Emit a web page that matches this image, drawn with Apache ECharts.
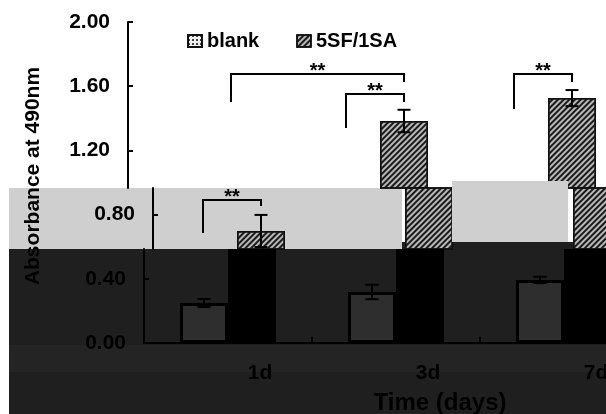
<!DOCTYPE html>
<html>
<head>
<meta charset="utf-8">
<script src="https://cdn.jsdelivr.net/npm/echarts@6/dist/echarts.min.js"></script>
<style>html,body{margin:0;padding:0;background:#fff}#c{width:606px;height:414px}</style>
</head>
<body>
<div id="c"></div>
<script>
// ---- data ----
const categories = ['1d', '3d', '7d'];
const seriesNames = ['blank', '5SF/1SA'];
const blankValues = [0.249, 0.318, 0.393];
const blankErrors = [0.025, 0.045, 0.020];
const sfValues = [0.698, 1.383, 1.526];
const sfErrors = [0.10, 0.07, 0.05];
const yTickValues = [0, 0.4, 0.8, 1.2, 1.6, 2.0];
// significance brackets: [fromCategory, fromSeries(0 blank / 1 5SF), toCategory, toSeries, topValue, fromLegEnd, toLegEnd, mark]
const sigBrackets = [
  [0, 1, 1, 1, 1.676, 1.502, 1.626, '**'],
  [1, 0, 1, 1, 1.551, 1.340, 1.502, '**'],
  [2, 0, 2, 1, 1.676, 1.458, 1.626, '**'],
  [0, 0, 0, 1, 0.891, 0.685, 0.854, '**']
];

// ---- layout / style ----
const FONT = '"Liberation Sans", Arial, sans-serif';
const PX_PER_UNIT = 160.5;
const BAR_W = 48;
const GRID_W = 504;
const LEG_SHIFT = [-10, -5];
const hatch = () => ({symbol: 'rect', symbolSize: 1, dashArrayX: [1, 0], dashArrayY: [2, 2], rotation: -Math.PI / 4, color: '#1a1a1a'});
const frames = [
  {left: 128, top: 22, height: 166, yMin: 2 - 166 / PX_PER_UNIT, yMax: 2.0,
   blankStyle: {color: '#e6e6e6', borderColor: '#000', borderWidth: 1.5},
   sfStyle: {color: '#b8b8b8', borderColor: '#111', borderWidth: 1.5, decal: hatch()}, brackets: true},
  {left: 153, top: 188, height: 61, yMin: 94 / PX_PER_UNIT, yMax: 155 / PX_PER_UNIT,
   blankStyle: {color: '#e6e6e6', borderColor: '#000', borderWidth: 1.5},
   sfStyle: {color: '#b8b8b8', borderColor: '#111', borderWidth: 1.5, decal: hatch()}, brackets: true},
  {left: 144, top: 249, height: 94, yMin: 0, yMax: 94 / PX_PER_UNIT,
   blankStyle: {color: '#2e2e2e', borderColor: '#000', borderWidth: 3},
   sfStyle: {color: '#000', borderColor: '#000', borderWidth: 0}, brackets: false}
];

const errData = [];
categories.forEach((c, i) => {
  errData.push([i, blankValues[i] - blankErrors[i], blankValues[i] + blankErrors[i], 0]);
  errData.push([i, sfValues[i] - sfErrors[i], sfValues[i] + sfErrors[i], 1]);
});

function barCenter(api, cat, side) {
  const c = api.coord([cat, 0])[0];
  return c + (side === 0 ? -BAR_W / 2 : BAR_W / 2);
}
function errRender(params, api) {
  const x = barCenter(api, api.value(0), api.value(3));
  const yl = api.coord([api.value(0), api.value(1)])[1];
  const yh = api.coord([api.value(0), api.value(2)])[1];
  const cap = 6.5;
  const st = {stroke: '#000', lineWidth: 2};
  return {type: 'group', children: [
    {type: 'line', shape: {x1: x, y1: yl, x2: x, y2: yh}, style: st},
    {type: 'line', shape: {x1: x - cap, y1: yh, x2: x + cap, y2: yh}, style: st},
    {type: 'line', shape: {x1: x - cap, y1: yl, x2: x + cap, y2: yl}, style: st}
  ]};
}
function bracketRender(params, api) {
  const b = sigBrackets[params.dataIndex];
  const xf = barCenter(api, b[0], b[1]) + LEG_SHIFT[b[1]];
  const xt = barCenter(api, b[2], b[3]);
  const yTop = api.coord([b[0], b[4]])[1];
  const yf = api.coord([b[0], b[5]])[1];
  const yt = api.coord([b[0], b[6]])[1];
  return {type: 'group', children: [
    {type: 'polyline', shape: {points: [[xf, yf], [xf, yTop], [xt, yTop], [xt, yt]]},
     style: {stroke: '#000', lineWidth: 2, fill: null}},
    {type: 'text', x: (xf + xt) / 2, y: yTop - 3,
     style: {text: b[7], font: 'bold 20px ' + FONT, fill: '#000', align: 'center', verticalAlign: 'middle'}}
  ]};
}
function ticksIn(f) {
  return yTickValues.filter(v => v >= f.yMin - 1e-6 && v <= f.yMax + 1e-6);
}

const grids = frames.map(f => ({left: f.left, top: f.top, width: GRID_W, height: f.height,
                                outerBoundsMode: 'none', containLabel: false}));
const xAxes = frames.map((f, i) => ({
  type: 'category', gridIndex: i, data: categories, show: i === 2, boundaryGap: true,
  axisLine: {lineStyle: {color: '#000', width: 2}},
  axisTick: {show: true, inside: true, length: 6, lineStyle: {color: '#000', width: 2}},
  axisLabel: {color: '#000', fontSize: 21, fontWeight: 'bold', fontFamily: FONT, margin: 20, padding: [0, 0, 0, 64]},
  name: i === 2 ? 'Time (days)' : '', nameLocation: 'middle', nameGap: 48,
  nameTextStyle: {color: '#000', fontSize: 24, fontWeight: 'bold', fontFamily: FONT, padding: [0, 0, 0, 88]}
}));
const yAxes = frames.map((f, i) => ({
  type: 'value', gridIndex: i, min: f.yMin, max: f.yMax,
  splitLine: {show: false},
  axisLine: {show: true, lineStyle: {color: '#000', width: 2}},
  axisTick: {show: true, inside: true, length: 5, lineStyle: {color: '#000', width: 2}, customValues: ticksIn(f)},
  axisLabel: {customValues: ticksIn(f), formatter: v => v.toFixed(2), margin: 18,
              color: '#000', fontSize: 21, fontWeight: 'bold', fontFamily: FONT}
}));
const series = [];
frames.forEach((f, i) => {
  series.push({type: 'bar', name: seriesNames[0], xAxisIndex: i, yAxisIndex: i, data: blankValues,
               barWidth: BAR_W, barGap: '0%', itemStyle: f.blankStyle, clip: true, silent: true});
  series.push({type: 'bar', name: seriesNames[1], xAxisIndex: i, yAxisIndex: i, data: sfValues,
               barWidth: BAR_W, barGap: '0%', itemStyle: f.sfStyle, clip: true, silent: true});
  series.push({type: 'custom', xAxisIndex: i, yAxisIndex: i, data: errData, renderItem: errRender,
               encode: {x: 0, y: [1, 2]}, clip: true, z: 5, silent: true});
  if (f.brackets) {
    series.push({type: 'custom', xAxisIndex: i, yAxisIndex: i,
                 data: sigBrackets.map(b => [b[0], b[4]]), renderItem: bracketRender,
                 encode: {x: 0, y: 1}, clip: true, z: 6, silent: true});
  }
});

const chart = echarts.init(document.getElementById('c'), null, {renderer: 'canvas'});
chart.setOption({
  animation: false,
  backgroundColor: '#fff',
  legend: {
    left: 187, top: 31, padding: 0, itemWidth: 14, itemHeight: 12, itemGap: 37,
    icon: 'rect', selectedMode: false,
    textStyle: {color: '#000', fontSize: 20, fontWeight: 'bold', fontFamily: FONT},
    data: [
      {name: seriesNames[0], itemStyle: {color: '#f0f0f0', borderColor: '#111', borderWidth: 2,
        decal: {symbol: 'rect', symbolSize: 1, dashArrayX: [[2, 2]], dashArrayY: [2, 2], color: '#444'}}},
      {name: seriesNames[1], itemStyle: {color: '#b8b8b8', borderColor: '#111', borderWidth: 1.5, decal: hatch()}}
    ]
  },
  grid: grids, xAxis: xAxes, yAxis: yAxes, series: series,
  graphic: [
    {type: 'rect', z: -10, shape: {x: 9, y: 188, width: 393, height: 61}, style: {fill: '#cfcfcf'}},
    {type: 'rect', z: -10, shape: {x: 9, y: 249, width: 393, height: 165}, style: {fill: '#1f1f1f'}},
    {type: 'rect', z: -10, shape: {x: 402, y: 242, width: 204, height: 172}, style: {fill: '#1f1f1f'}},
    {type: 'rect', z: -9, shape: {x: 9, y: 345, width: 597, height: 27}, style: {fill: '#242424'}},
    {type: 'rect', z: 50, shape: {x: 452, y: 181, width: 116, height: 61}, style: {fill: '#cfcfcf'}},
    {type: 'text', z: 60, x: 33, y: 176, rotation: Math.PI / 2,
     style: {text: 'Absorbance at 490nm', font: 'bold 21px ' + FONT, fill: '#000', align: 'center', verticalAlign: 'middle'}}
  ]
});
</script>
</body>
</html>
